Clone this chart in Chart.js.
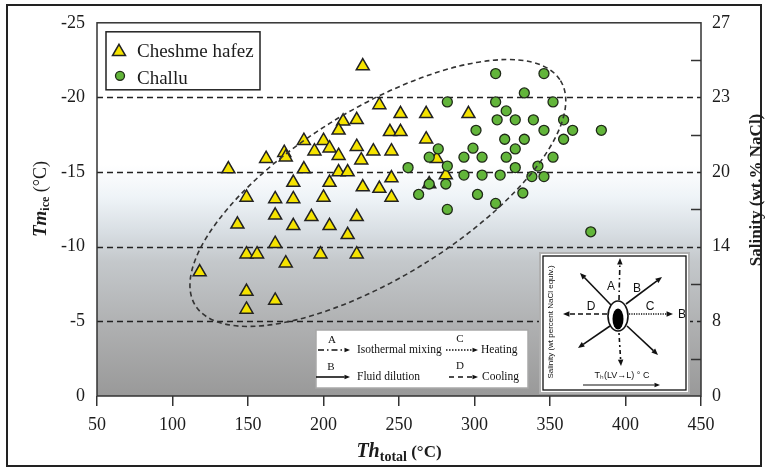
<!DOCTYPE html>
<html>
<head>
<meta charset="utf-8">
<script src="https://cdn.jsdelivr.net/npm/chart.js@4.4.0/dist/chart.umd.min.js"></script>
<style>
  html, body { margin: 0; padding: 0; background: #fff; }
  #wrap { width: 768px; height: 471px; }
</style>
</head>
<body>
<div id="wrap"><canvas id="chart" width="768" height="471"></canvas></div>
<script>
// Cheshme hafez (triangles)
const hafezTh = [226, 237, 213, 210, 222, 187, 200, 204, 194, 174, 175, 210, 222, 233, 225, 162, 137, 187, 210, 216,
  180, 204, 226, 237, 149, 168, 180, 200, 143, 168, 180, 192, 204, 216, 222, 168, 149, 156, 175, 198,
  222, 118, 149, 168, 149, 251, 268, 296, 244, 251, 268, 245, 275, 245, 281, 270, 245];
const hafezTm = [-22.1, -19.5, -18.4, -17.8, -18.5, -17.1, -17.1, -16.6, -16.4, -16.3, -16.0, -16.1, -16.7, -16.4, -15.8, -15.9, -15.2, -15.2, -15.0, -15.0,
  -14.3, -14.3, -14.0, -13.9, -13.3, -13.2, -13.2, -13.3, -11.5, -12.1, -11.4, -12.0, -11.4, -10.8, -12.0, -10.2, -9.5, -9.5, -8.9, -9.5,
  -9.5, -8.3, -7.0, -6.4, -5.8, -18.9, -18.9, -18.9, -17.7, -17.7, -17.2, -16.4, -15.9, -14.6, -14.8, -14.2, -13.3];

// Challu (circles)
const challuTh = [314, 346, 333, 282, 314, 352, 321, 315, 327, 339, 359, 301, 346, 365, 384, 320, 333, 359, 276, 299,
  327, 270, 293, 305, 321, 352, 256, 282, 327, 342, 293, 305, 317, 338, 346, 270, 281, 263, 302, 332, 314, 282, 377];
const challuTm = [-21.6, -21.6, -20.3, -19.7, -19.7, -19.7, -19.1, -18.5, -18.5, -18.5, -18.5, -17.8, -17.8, -17.8, -17.8, -17.2, -17.2, -17.2, -16.55, -16.6,
  -16.55, -16.0, -16.0, -16.0, -16.0, -16.0, -15.3, -15.4, -15.3, -15.4, -14.8, -14.8, -14.8, -14.7, -14.7, -14.2, -14.2, -13.5, -13.5, -13.6, -12.9, -12.5, -11.0];

const tmLevels = [-25, -20, -15, -10, -5, 0];
const salinityLabels = ['27', '23', '20', '14', '8', '0'];
const salinityMinor = [-22.5, -17.5, -12.5, -7.5, -2.5];
const refLines = [-5, -10, -15, -20];
// dashed envelope: centre in data units, semi-axes in Th units, tilt in degrees
const envelope = { th: 236, tm: -13.6, a: 142, b: 56, angle: -31.6 };

const serif = '"Liberation Serif", "DejaVu Serif", serif';
const sans = '"Liberation Sans", Arial, sans-serif';
const ink = '#1c1c1c';

function toPoints(xs, ys) {
  return xs.map((x, i) => ({ x: x, y: ys[i] }));
}

function arrow(ctx, x1, y1, x2, y2, dash, head) {
  head = head || 6;
  const ang = Math.atan2(y2 - y1, x2 - x1);
  const ex = x2 - Math.cos(ang) * head * 0.9, ey = y2 - Math.sin(ang) * head * 0.9;
  ctx.save();
  ctx.setLineDash(dash || []);
  ctx.beginPath();
  ctx.moveTo(x1, y1);
  ctx.lineTo(ex, ey);
  ctx.stroke();
  ctx.setLineDash([]);
  ctx.beginPath();
  ctx.moveTo(x2, y2);
  ctx.lineTo(x2 - head * Math.cos(ang - 0.4), y2 - head * Math.sin(ang - 0.4));
  ctx.lineTo(x2 - head * Math.cos(ang + 0.4), y2 - head * Math.sin(ang + 0.4));
  ctx.closePath();
  ctx.fill();
  ctx.restore();
}

// writes pieces of text one after the other, each with its own font and baseline shift
function writeRuns(ctx, runs, x, y) {
  let total = 0;
  runs.forEach(r => { ctx.font = r.font; total += ctx.measureText(r.text).width; });
  let cx = x - total / 2;
  runs.forEach(r => {
    ctx.font = r.font;
    ctx.fillText(r.text, cx, y + (r.dy || 0));
    cx += ctx.measureText(r.text).width;
  });
}

const decor = {
  id: 'decor',
  beforeDraw(chart) {
    const { ctx, chartArea: a } = chart;
    ctx.save();
    ctx.fillStyle = '#fff';
    ctx.fillRect(0, 0, chart.width, chart.height);
    const g = ctx.createLinearGradient(0, a.top, 0, a.bottom);
    g.addColorStop(0, '#ffffff');
    g.addColorStop(0.38, '#ffffff');
    g.addColorStop(0.47, '#eef3f7');
    g.addColorStop(0.56, '#d8dee3');
    g.addColorStop(0.64, '#c4c8cb');
    g.addColorStop(0.82, '#aeafb0');
    g.addColorStop(1, '#999999');
    ctx.fillStyle = g;
    ctx.fillRect(a.left, a.top, a.right - a.left, a.bottom - a.top);
    ctx.restore();
  },
  beforeDatasetsDraw(chart) {
    const { ctx, chartArea: a, scales } = chart;
    ctx.save();
    ctx.strokeStyle = '#222';
    ctx.lineWidth = 1.5;
    ctx.setLineDash([6, 4]);
    refLines.forEach(v => {
      const y = Math.round(scales.y.getPixelForValue(v)) + 0.5;
      ctx.beginPath();
      ctx.moveTo(a.left, y);
      ctx.lineTo(a.right, y);
      ctx.stroke();
    });
    ctx.restore();
  },
  afterDatasetsDraw(chart) {
    const { ctx, scales } = chart;
    const unit = scales.x.getPixelForValue(1) - scales.x.getPixelForValue(0);
    ctx.save();
    ctx.strokeStyle = '#333';
    ctx.lineWidth = 1.6;
    ctx.setLineDash([5, 3.5]);
    ctx.beginPath();
    ctx.ellipse(scales.x.getPixelForValue(envelope.th), scales.y.getPixelForValue(envelope.tm),
      envelope.a * unit, envelope.b * unit, envelope.angle * Math.PI / 180, 0, Math.PI * 2);
    ctx.stroke();
    ctx.restore();
  },
  afterDraw(chart) {
    const { ctx, chartArea: a, scales } = chart;
    ctx.save();
    // frames
    ctx.strokeStyle = '#333';
    ctx.lineWidth = 1.5;
    ctx.strokeRect(a.left, a.top, a.right - a.left, a.bottom - a.top);
    ctx.strokeStyle = '#222';
    ctx.lineWidth = 2;
    ctx.strokeRect(7, 5, 754, 461);

    // inward ticks on the salinity axis
    ctx.lineWidth = 1.5;
    ctx.strokeStyle = '#333';
    salinityMinor.forEach(v => {
      const y = Math.round(scales.y2.getPixelForValue(v)) + 0.5;
      ctx.beginPath();
      ctx.moveTo(a.right, y);
      ctx.lineTo(a.right - 10, y);
      ctx.stroke();
    });

    // axis titles
    ctx.fillStyle = ink;
    ctx.textBaseline = 'alphabetic';
    writeRuns(ctx, [
      { text: 'Th', font: 'bold italic 20px ' + serif },
      { text: 'total', font: 'bold 14px ' + serif, dy: 4 },
      { text: ' (°C)', font: 'bold 17px ' + serif }
    ], (a.left + a.right) / 2, 457);

    ctx.save();
    ctx.translate(46, 199);
    ctx.rotate(-Math.PI / 2);
    writeRuns(ctx, [
      { text: 'Tm', font: 'bold italic 19px ' + serif },
      { text: 'ice', font: 'bold 12px ' + serif, dy: 3 },
      { text: ' (°C)', font: '18px ' + serif }
    ], 0, 0);
    ctx.restore();

    ctx.save();
    ctx.translate(761, 190);
    ctx.rotate(-Math.PI / 2);
    ctx.textAlign = 'center';
    ctx.font = 'bold 17px ' + serif;
    ctx.fillText('Salinity (wt.% NaCl)', 0, 0);
    ctx.restore();

    // sample legend
    const lx = a.left + 9, ly = a.top + 9;
    ctx.fillStyle = '#fff';
    ctx.fillRect(lx, ly, 154, 58);
    ctx.strokeStyle = '#222';
    ctx.lineWidth = 1.5;
    ctx.strokeRect(lx, ly, 154, 58);
    const tri = chart.data.datasets[1], cir = chart.data.datasets[0];
    ctx.fillStyle = tri.backgroundColor;
    ctx.strokeStyle = tri.borderColor;
    ctx.lineWidth = tri.borderWidth;
    ctx.beginPath();
    const r = tri.pointRadius;
    ctx.moveTo(lx + 13, ly + 20 - r);
    ctx.lineTo(lx + 13 + r * 0.866, ly + 20 + r * 0.5);
    ctx.lineTo(lx + 13 - r * 0.866, ly + 20 + r * 0.5);
    ctx.closePath();
    ctx.fill();
    ctx.stroke();
    ctx.fillStyle = cir.backgroundColor;
    ctx.strokeStyle = cir.borderColor;
    ctx.lineWidth = cir.borderWidth;
    ctx.beginPath();
    ctx.arc(lx + 14, ly + 44, 4.5, 0, Math.PI * 2);
    ctx.fill();
    ctx.stroke();
    ctx.fillStyle = ink;
    ctx.font = '19px ' + serif;
    ctx.textAlign = 'left';
    ctx.textBaseline = 'middle';
    ctx.fillText(tri.label, lx + 31, ly + 20);
    ctx.fillText(cir.label, lx + 31, ly + 47);

    // process legend
    const px = a.left + 219, py = a.bottom - 66;
    ctx.fillStyle = '#fff';
    ctx.fillRect(px, py, 212, 58);
    ctx.strokeStyle = '#a8a8a8';
    ctx.lineWidth = 1.5;
    ctx.strokeRect(px, py, 212, 58);
    ctx.strokeStyle = '#111';
    ctx.fillStyle = '#111';
    ctx.lineWidth = 1.6;
    arrow(ctx, px + 2, py + 20, px + 34, py + 20, [6, 3, 1.5, 3], 6);
    arrow(ctx, px + 130, py + 20, px + 162, py + 20, [1.5, 1.5], 6);
    arrow(ctx, px + 0, py + 47, px + 34, py + 47, [], 6);
    arrow(ctx, px + 133, py + 47, px + 162, py + 47, [5, 4], 6);
    ctx.font = '11px ' + serif;
    ctx.textAlign = 'center';
    ctx.textBaseline = 'middle';
    ctx.fillText('A', px + 16, py + 10);
    ctx.fillText('C', px + 144, py + 9);
    ctx.fillText('B', px + 15, py + 37);
    ctx.fillText('D', px + 144, py + 36);
    ctx.textAlign = 'left';
    ctx.font = '11.5px ' + serif;
    ctx.fillText('Isothermal mixing', px + 41, py + 20);
    ctx.fillText('Heating', px + 165, py + 20);
    ctx.fillText('Fluid dilution', px + 41, py + 47);
    ctx.fillText('Cooling', px + 166, py + 47);

    // inset diagram
    const bx = a.right - 161, by = a.bottom - 143;
    ctx.fillStyle = '#fff';
    ctx.fillRect(bx, by, 149, 140);
    ctx.strokeStyle = '#b0b0b0';
    ctx.lineWidth = 2;
    ctx.strokeRect(bx, by, 149, 140);
    ctx.strokeStyle = '#111';
    ctx.lineWidth = 1.3;
    ctx.strokeRect(bx + 3, by + 3, 143, 134);
    ctx.fillStyle = '#111';
    ctx.lineWidth = 1.6;
    arrow(ctx, bx + 79, by + 47, bx + 80, by + 5, [5, 3, 1.5, 3], 7);
    arrow(ctx, bx + 79, by + 80, bx + 81, by + 113, [2, 3, 4, 3], 7);
    arrow(ctx, bx + 71, by + 52, bx + 40, by + 20, [], 7);
    arrow(ctx, bx + 86, by + 51, bx + 122, by + 24, [], 7);
    arrow(ctx, bx + 70, by + 73, bx + 38, by + 95, [], 7);
    arrow(ctx, bx + 87, by + 73, bx + 118, by + 102, [], 7);
    arrow(ctx, bx + 67, by + 61, bx + 23, by + 61, [5, 3], 7);
    arrow(ctx, bx + 89, by + 61, bx + 133, by + 61, [1.2, 1.2], 7);
    ctx.fillStyle = '#fff';
    ctx.beginPath();
    ctx.ellipse(bx + 78, by + 63, 10, 15, 0, 0, Math.PI * 2);
    ctx.fill();
    ctx.stroke();
    ctx.fillStyle = '#000';
    ctx.beginPath();
    ctx.ellipse(bx + 78, by + 66, 5.5, 10.5, 0, 0, Math.PI * 2);
    ctx.fill();
    ctx.fillStyle = '#111';
    ctx.font = '12px ' + sans;
    ctx.textAlign = 'center';
    ctx.textBaseline = 'middle';
    ctx.fillText('A', bx + 71, by + 34);
    ctx.fillText('B', bx + 97, by + 36);
    ctx.fillText('D', bx + 51, by + 54);
    ctx.fillText('C', bx + 110, by + 54);
    ctx.fillText('B', bx + 142, by + 62);
    ctx.font = '8px ' + sans;
    ctx.save();
    ctx.translate(bx + 11, by + 69);
    ctx.rotate(-Math.PI / 2);
    ctx.fillText('Salinity (wt percent NaCl equiv.)', 0, 0);
    ctx.restore();
    ctx.font = '9px ' + sans;
    ctx.fillText('T\u2095(LV\u2192L) ° C', bx + 82, by + 123);
    ctx.lineWidth = 1.2;
    arrow(ctx, bx + 43, by + 132, bx + 120, by + 132, [], 6);
    ctx.restore();
  }
};

new Chart(document.getElementById('chart'), {
  type: 'scatter',
  data: {
    datasets: [{
      label: 'Challu',
      data: toPoints(challuTh, challuTm),
      pointStyle: 'circle',
      pointRadius: 5,
      backgroundColor: '#62b53a',
      borderColor: '#1f2a18',
      borderWidth: 1.3
    }, {
      label: 'Cheshme hafez',
      data: toPoints(hafezTh, hafezTm),
      pointStyle: 'triangle',
      pointRadius: 7.5,
      backgroundColor: '#f5e300',
      borderColor: '#222',
      borderWidth: 1.5
    }]
  },
  options: {
    responsive: false,
    animation: false,
    layout: { padding: { top: 13, left: 0, right: 0, bottom: 0 } },
    plugins: { legend: { display: false }, tooltip: { enabled: false } },
    scales: {
      x: {
        type: 'linear', min: 50, max: 450,
        afterFit: s => { s.height = 75; },
        ticks: { stepSize: 50, padding: 8, color: ink, font: { family: serif, size: 18 } },
        grid: { display: true, drawOnChartArea: false, drawTicks: true, tickLength: 10, color: '#333', lineWidth: 1.5 },
        border: { display: false }
      },
      y: {
        type: 'linear', min: -25, max: 0, reverse: true, position: 'left',
        afterFit: s => { s.width = 97; },
        ticks: { stepSize: 5, padding: 12, color: ink, font: { family: serif, size: 18 } },
        grid: { display: false, drawTicks: false },
        border: { display: false }
      },
      y2: {
        type: 'linear', min: -25, max: 0, reverse: true, position: 'right',
        afterFit: s => { s.width = 67; },
        afterBuildTicks: s => { s.ticks = tmLevels.map(v => ({ value: v })); },
        ticks: {
          padding: 11, color: ink, font: { family: serif, size: 18 },
          callback: v => salinityLabels[tmLevels.indexOf(v)]
        },
        grid: { display: false, drawTicks: false },
        border: { display: false }
      }
    }
  },
  plugins: [decor]
});
</script>
</body>
</html>
